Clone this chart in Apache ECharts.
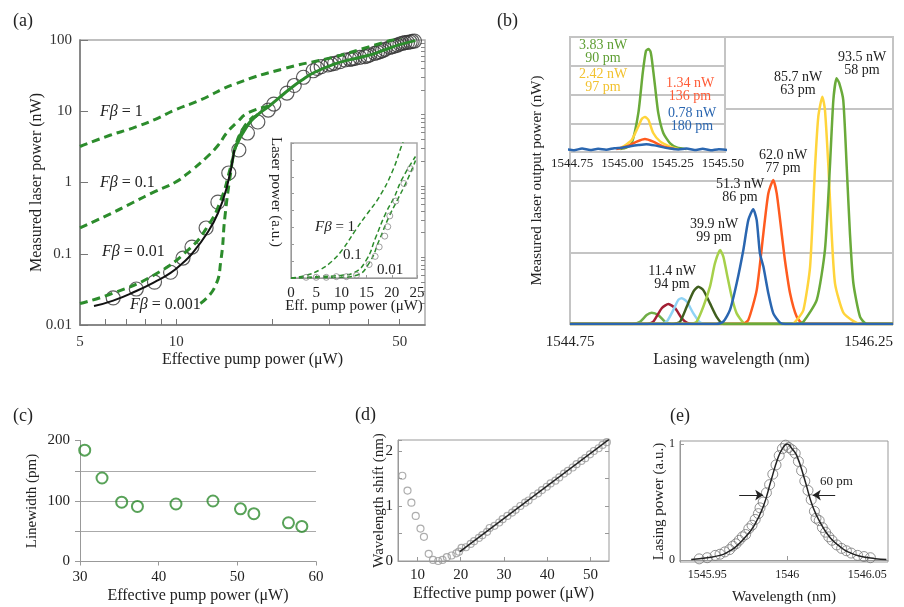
<!DOCTYPE html>
<html><head><meta charset="utf-8">
<script src="https://cdn.jsdelivr.net/npm/echarts@6/dist/echarts.min.js"></script>
<style>html,body{margin:0;padding:0;background:#fff}#c{width:904px;height:607px}</style>
</head><body><div id="c"></div>
<script>
const FONT = "'Liberation Serif','Times New Roman',serif";
const GREEN = '#2c8c2c';

// ---------- (a) main: measured laser power vs effective pump power ----------
const aMeasX = [6.35,7.5,8.55,9.6,10.5,11.2,12.4,13.5,14.6,15.7,16.7,18.0,19.4,20.2,22.2,23.4,25.0,26.8,27.6,28.4,29.8,30.5,31.3,32.5,33.7,34.9,35.5,36.2,37.5,38.9,39.6,40.3,41.8,42.6,43.4,44.2,45.0,46.6,47.4,48.3,49.2,50.1,51.0,51.9,52.9,53.9,54.7,55.6];
const aMeasY = [0.024,0.032,0.040,0.055,0.087,0.124,0.23,0.53,1.36,2.86,4.95,7.07,10.4,12.6,18,23,30,37,40,42.2,44.6,46,47.1,49.6,52.4,53.6,54.5,55.3,57.2,58.3,60,61.6,65,67,68.5,71,74,78.9,80.5,82.4,85,87.9,90,91.7,92.5,93.8,95.5,96.8];
const aFit = [[5.53,0.0185],[6.35,0.022],[7.5,0.030],[8.55,0.040],[9.6,0.054],[10.5,0.075],[11.2,0.10],[12.5,0.195],[13.5,0.37],[14.4,0.86],[15.2,2.86]];
const aFb1 = [[5,3.2],[6.2,4.6],[7.3,5.8],[8.6,7.7],[9.9,10.4],[11.9,14.4],[15.2,24],[21.9,40],[31.3,58],[40,80],[50.8,110]];
const aFb01 = [[5,0.23],[6.2,0.36],[7.3,0.52],[8.6,0.75],[9.9,1.0],[11.2,1.5],[12.5,2.3],[13.5,3.3],[14.4,5.0],[15.5,7],[16.7,9.4],[19.4,11.8]];
const aFb001 = [[5,0.020],[6.35,0.028],[8.5,0.050],[10.9,0.113],[12.5,0.237],[13.8,0.57],[14.8,1.65],[15.6,3.9],[16.7,6.4],[18,9]];
const aFb0001 = [[11.9,0.020],[13.2,0.034],[13.8,0.082],[14.2,0.33],[14.8,1.37],[15.3,3.15],[16.3,6.0],[17.5,8.5]];
const aUpper = [[15.3,3.1],[16.7,6.3],[18,9],[19.4,11.5],[21,15.5],[22.5,20],[24.6,27],[27,35],[31.3,46],[35,53],[40,61],[45,73],[50,86],[56,98]];
const aXLabels = [5,10,50];
const aXTicks = [6,7,8,9,10,20,30,40,50];

// ---------- (a) inset ----------
const aiFb1 = [[0,0],[3,0.02],[5.7,0.06],[8,0.12],[10.2,0.21],[12.9,0.36],[15,0.47],[17.5,0.6],[20,0.78],[22,0.985],[22.5,1.03]];
const aiFb01 = [[0,0],[5,0.01],[10,0.02],[12.5,0.04],[14.9,0.13],[16.8,0.3],[18.8,0.48],[20.5,0.6],[22,0.73],[24.7,0.9]];
const aiFb001 = [[0,0],[10,0.005],[13,0.02],[15.5,0.11],[17.5,0.28],[19.4,0.45],[21,0.57],[23,0.72],[24.7,0.87]];
const aiMeasX = [3,5,7,9,11,13,15.5,16.7,17.5,18.6,19.2,19.6,20.8,22.4,23.7];
const aiMeasY = [0.005,0.005,0.005,0.01,0.01,0.02,0.10,0.16,0.23,0.31,0.38,0.46,0.57,0.70,0.81];

// ---------- (b) spectra ----------
const bG1 = [[1544.75,0],[1545.04,0],[1545.075,0.8],[1545.106,3.1],[1545.129,3.9],[1545.160,3.1],[1545.191,0.8],[1545.22,0],[1546.25,0]];
const bDR = [[1544.75,0],[1545.11,0],[1545.137,0.8],[1545.176,5.5],[1545.207,7.0],[1545.238,5.5],[1545.269,2.0],[1545.292,0.5],[1545.32,0],[1546.25,0]];
const bLB = [[1544.75,0],[1545.17,0],[1545.199,0.8],[1545.230,4.9],[1545.253,8.4],[1545.269,9.0],[1545.292,7.8],[1545.323,3.7],[1545.354,0.5],[1545.38,0],[1546.25,0]];
const bDG = [[1544.75,0],[1545.23,0],[1545.261,0.8],[1545.292,6],[1545.323,11.3],[1545.346,13],[1545.369,11.8],[1545.400,7.2],[1545.431,2.5],[1545.462,0],[1546.25,0]];
const bYG = [[1544.75,0],[1545.31,0],[1545.338,0.8],[1545.369,6],[1545.400,13],[1545.423,21.1],[1545.447,25.8],[1545.462,23.5],[1545.478,17.7],[1545.501,9.5],[1545.524,3.7],[1545.555,0.5],[1545.58,0],[1546.25,0]];
const bBl = [[1544.75,0],[1545.43,0],[1545.462,0.8],[1545.493,4.9],[1545.524,14.2],[1545.555,25.8],[1545.578,36.2],[1545.601,40],[1545.617,36.2],[1545.632,24.6],[1545.648,20],[1545.671,10.7],[1545.694,3.7],[1545.725,0.5],[1545.75,0],[1546.25,0]];
const bOr = [[1544.75,0],[1545.55,0],[1545.578,1.4],[1545.617,11.8],[1545.648,31.6],[1545.671,45.5],[1545.694,50.2],[1545.710,45.5],[1545.733,31.6],[1545.748,22.3],[1545.772,10.7],[1545.803,2.5],[1545.834,0],[1546.25,0]];
const bYe = [[1544.75,0],[1545.78,0],[1545.803,1.4],[1545.834,4.9],[1545.865,20],[1545.888,54.8],[1545.903,72.2],[1545.922,79.2],[1545.934,74.6],[1545.950,54.8],[1545.965,31.6],[1545.981,14],[1546.019,4],[1546.066,1],[1546.1,0],[1546.25,0]];
const bGr = [[1544.75,0],[1545.81,0],[1545.834,0.8],[1545.896,8.4],[1545.934,25.8],[1545.957,54.8],[1545.973,78],[1545.988,85.6],[1546.0,84],[1546.019,78],[1546.035,54.8],[1546.050,31.6],[1546.066,14.2],[1546.097,2.5],[1546.128,0],[1546.25,0]];
const bXLabels = [1544.75,1546.25];
// (b) inset
const biGr = [[1544.99,0.1],[1545.02,0.15],[1545.047,0.3],[1545.080,1.36],[1545.102,2.76],[1545.118,3.52],[1545.130,3.58],[1545.140,3.5],[1545.147,3.23],[1545.163,2.29],[1545.179,1.36],[1545.204,0.66],[1545.238,0.3],[1545.271,0.16],[1545.32,0.1]];
const biYe = [[1544.98,0.1],[1545.005,0.19],[1545.047,0.42],[1545.080,0.89],[1545.097,1.15],[1545.113,1.22],[1545.130,1.12],[1545.154,0.66],[1545.188,0.37],[1545.238,0.19],[1545.28,0.1]];
const biOr = [[1544.97,0.1],[1545.022,0.19],[1545.072,0.36],[1545.113,0.45],[1545.154,0.36],[1545.204,0.19],[1545.26,0.1]];
const biBl = [[1544.72,0.1],[1544.76,0.06],[1544.80,0.12],[1544.84,0.07],[1544.88,0.11],[1544.92,0.08],[1544.96,0.13],[1545.00,0.15],[1545.04,0.2],[1545.08,0.24],[1545.12,0.27],[1545.16,0.23],[1545.20,0.17],[1545.24,0.12],[1545.28,0.09],[1545.32,0.12],[1545.36,0.07],[1545.40,0.11],[1545.44,0.06],[1545.48,0.1],[1545.52,0.07],[1545.54,0.09]];
const biXLabels = [1544.75,1545.00,1545.25,1545.50];

// ---------- (c) linewidth ----------
const cX = [30.6,32.8,35.3,37.3,42.2,46.9,50.4,52.1,56.5,58.2];
const cY = [184,138,98,91,95,100,87,79,64,58];

// ---------- (d) wavelength shift ----------
const dX = [6.5,7.7,8.6,9.6,10.7,11.5,12.6,13.6,14.8,15.8,16.8,17.9,19.0,19.6,20.2,21.2,22.3,23.1,24.2,25.0,26.1,26.7,27.8,28.9,29.7,30.8,31.9,32.7,33.8,34.9,35.7,36.8,37.9,38.8,39.9,40.8,41.9,42.8,43.9,44.8,45.9,46.8,47.9,48.8,49.9,50.8,51.9,52.8,53.8];
const dY = [1.55,1.28,1.06,0.82,0.59,0.44,0.13,0.02,0.00,0.02,0.07,0.10,0.14,0.17,0.24,0.25,0.31,0.36,0.42,0.47,0.53,0.60,0.64,0.70,0.76,0.82,0.88,0.93,1.00,1.06,1.10,1.18,1.23,1.29,1.35,1.41,1.46,1.52,1.59,1.64,1.70,1.76,1.82,1.87,1.94,2.00,2.05,2.11,2.16];
const dFit = [[19.8,0.17],[54.3,2.21]];
const dXLabels = [10,20,30,40,50];

// ---------- (e) lasing spectrum ----------
const eX = [1545.945,1545.950,1545.955,1545.958,1545.961,1545.964,1545.966,1545.968,1545.970,1545.972,1545.974,1545.976,1545.978,1545.980,1545.982,1545.983,1545.985,1545.987,1545.989,1545.991,1545.993,1545.995,1545.997,1545.999,1546.001,1546.003,1546.005,1546.007,1546.009,1546.011,1546.013,1546.015,1546.017,1546.018,1546.020,1546.022,1546.024,1546.026,1546.028,1546.031,1546.034,1546.037,1546.040,1546.044,1546.048,1546.052];
const eY = [0.01,0.02,0.04,0.05,0.07,0.09,0.12,0.14,0.17,0.20,0.22,0.27,0.30,0.35,0.40,0.45,0.50,0.58,0.65,0.74,0.82,0.90,0.96,0.99,0.97,0.95,0.92,0.85,0.77,0.68,0.60,0.52,0.42,0.36,0.34,0.28,0.24,0.20,0.17,0.13,0.10,0.08,0.06,0.04,0.03,0.02];
const eFit = [[1545.94,0.005],[1545.95,0.02],[1545.958,0.04],[1545.963,0.07],[1545.968,0.115],[1545.974,0.2],[1545.979,0.29],[1545.985,0.46],[1545.990,0.69],[1545.994,0.87],[1545.997,0.96],[1546.0,1.0],[1546.003,0.96],[1546.006,0.9],[1546.011,0.69],[1546.016,0.46],[1546.022,0.29],[1546.027,0.19],[1546.033,0.115],[1546.038,0.07],[1546.045,0.035],[1546.055,0.012],[1546.062,0.005]];
const eArrows = [[1545.970,1545.985,0.56],[1546.030,1546.016,0.56]];
const eXLabels = [1545.95,1546,1546.05];

const zip = (xs, ys) => xs.map((x, i) => [x, ys[i]]);
const minorLog = [];
[0.01,0.1,1,10].forEach(d => { for (let k = 2; k <= 9; k++) minorLog.push(+(d * k).toPrecision(3)); });

const lbl = (size, extra) => Object.assign({fontFamily: FONT, fontSize: size, color: '#222'}, extra || {});
const nm = (size) => ({fontFamily: FONT, fontSize: size, color: '#222'});

function txt(x, y, text, size, color, align, extra) {
  return Object.assign({
    type: 'text', x: x, y: y, z: 100,
    style: {text: text, font: size + 'px ' + FONT, fill: color || '#222', align: align || 'left', verticalAlign: 'middle', lineHeight: size - 1}
  }, extra || {});
}
function fb(x, y, rest, size) {
  return {type: 'text', x: x, y: y, z: 100, style: {
    text: '{i|Fβ}' + rest, font: size + 'px ' + FONT, fill: '#222', verticalAlign: 'middle',
    rich: {i: {fontStyle: 'italic', fontSize: size, fontFamily: FONT, fill: '#222'}}
  }};
}

const GRID_BASE = {outerBoundsMode: 'none', containLabel: false};
const option = {
  animation: false,
  backgroundColor: '#fff',
  textStyle: {fontFamily: FONT},
  grid: [
    Object.assign({left: 80, top: 40, width: 345, height: 285, show: true, borderColor: '#aaa', borderWidth: 1.5, backgroundColor: 'rgba(0,0,0,0)'}, GRID_BASE),
    Object.assign({left: 291, top: 143, width: 126, height: 135, show: true, borderColor: '#aaa', borderWidth: 1.5, backgroundColor: '#fff', z: 1}, GRID_BASE),
    Object.assign({left: 570, top: 37, width: 323, height: 287, show: true, borderColor: '#c4c4c4', borderWidth: 2, backgroundColor: 'rgba(0,0,0,0)'}, GRID_BASE),
    Object.assign({left: 570, top: 37, width: 155, height: 115, show: true, borderColor: '#c4c4c4', borderWidth: 2, backgroundColor: '#fff', z: 1}, GRID_BASE),
    Object.assign({left: 80, top: 440.5, width: 236, height: 121}, GRID_BASE),
    Object.assign({left: 398, top: 440, width: 211, height: 121, show: true, borderColor: '#999', borderWidth: 1, backgroundColor: 'rgba(0,0,0,0)'}, GRID_BASE),
    Object.assign({left: 680, top: 441, width: 208, height: 121, show: true, borderColor: '#999', borderWidth: 1, backgroundColor: 'rgba(0,0,0,0)'}, GRID_BASE)
  ],
  xAxis: [
    {gridIndex: 0, type: 'log', logBase: 10, min: 5, max: 60,
     axisLine: {lineStyle: {color: '#777', width: 1.5}},
     axisTick: {inside: true, length: 6, customValues: aXTicks, lineStyle: {color: '#777'}},
     axisLabel: {customValues: aXLabels, margin: 10, fontFamily: FONT, fontSize: 15, color: '#333'},
     splitLine: {show: false}, name: 'Effective pump power (μW)', nameLocation: 'middle', nameGap: 27, nameMoveOverlap: false, nameTextStyle: nm(16)},
    {gridIndex: 1, type: 'value', min: 0, max: 25, interval: 5, z: 2,
     axisLine: {lineStyle: {color: '#999'}}, axisTick: {inside: true, length: 3, lineStyle: {color: '#999'}},
     axisLabel: {margin: 8, fontFamily: FONT, fontSize: 15, color: '#222'},
     splitLine: {show: false}, name: 'Eff. pump power (μW)', nameLocation: 'middle', nameGap: 21, nameMoveOverlap: false, nameTextStyle: nm(15)},
    {gridIndex: 2, type: 'value', min: 1544.75, max: 1546.25,
     axisLine: {show: false}, axisTick: {show: false},
     axisLabel: {customValues: bXLabels, formatter: v => v.toFixed(2), alignMinLabel: 'center', alignMaxLabel: 'right', margin: 11, fontFamily: FONT, fontSize: 15, color: '#222'},
     splitLine: {show: false}, name: 'Lasing wavelength (nm)', nameLocation: 'middle', nameGap: 28, nameMoveOverlap: false, nameTextStyle: nm(16)},
    {gridIndex: 3, type: 'value', min: 1544.74, max: 1545.511, z: 2,
     axisLine: {show: false}, axisTick: {show: false},
     axisLabel: {customValues: biXLabels, formatter: v => v.toFixed(2), margin: 5, fontFamily: FONT, fontSize: 13, color: '#222'},
     splitLine: {show: false}},
    {gridIndex: 4, type: 'value', min: 30, max: 60, interval: 10,
     axisLine: {lineStyle: {color: '#999'}}, axisTick: {length: 4, lineStyle: {color: '#999'}},
     axisLabel: {margin: 8, fontFamily: FONT, fontSize: 15, color: '#222'},
     splitLine: {show: false}, name: 'Effective pump power (μW)', nameLocation: 'middle', nameGap: 26, nameMoveOverlap: false, nameTextStyle: nm(16)},
    {gridIndex: 5, type: 'value', min: 5.5, max: 54.3,
     axisLine: {lineStyle: {color: '#999'}}, axisTick: {inside: true, length: 4, customValues: dXLabels, lineStyle: {color: '#999'}},
     axisLabel: {customValues: dXLabels, margin: 7, fontFamily: FONT, fontSize: 15, color: '#222'},
     splitLine: {show: false}, name: 'Effective pump power (μW)', nameLocation: 'middle', nameGap: 25, nameMoveOverlap: false, nameTextStyle: nm(16)},
    {gridIndex: 6, type: 'value', min: 1545.933, max: 1546.063,
     axisLine: {lineStyle: {color: '#999'}}, axisTick: {inside: true, length: 4, customValues: eXLabels, lineStyle: {color: '#999'}},
     axisLabel: {customValues: eXLabels, formatter: v => String(Math.round(v * 100) / 100), margin: 7, fontFamily: FONT, fontSize: 12, color: '#222'},
     splitLine: {show: false}, name: 'Wavelength (nm)', nameLocation: 'middle', nameGap: 28, nameMoveOverlap: false, nameTextStyle: nm(15)}
  ],
  yAxis: [
    {gridIndex: 0, type: 'log', logBase: 10, min: 0.01, max: 100,
     axisLine: {lineStyle: {color: '#777', width: 1.5}},
     axisTick: {inside: true, length: 8, lineStyle: {color: '#777'}},
     axisLabel: {margin: 8, fontFamily: FONT, fontSize: 15, color: '#333'},
     splitLine: {show: false}, name: 'Measured laser power (nW)', nameLocation: 'middle', nameGap: 35, nameMoveOverlap: false, nameTextStyle: nm(16)},
    {gridIndex: 0, type: 'log', logBase: 10, min: 0.01, max: 100,
     axisLine: {show: false}, axisLabel: {show: false}, splitLine: {show: false},
     axisTick: {inside: true, length: 4, customValues: minorLog, lineStyle: {color: '#888'}}},
    {gridIndex: 1, type: 'value', min: 0, max: 1, interval: 0.125, z: 2,
     axisLine: {lineStyle: {color: '#999'}}, axisTick: {inside: true, length: 3, lineStyle: {color: '#999'}},
     axisLabel: {show: false}, splitLine: {show: false}},
    {gridIndex: 2, type: 'value', min: 0, max: 100, interval: 25,
     axisLine: {show: false}, axisTick: {show: false}, axisLabel: {show: false},
     splitLine: {show: true, showMinLine: false, showMaxLine: false, lineStyle: {color: '#c4c4c4', width: 2}},
     name: 'Measured laser output power (nW)', nameLocation: 'middle', nameGap: 25, nameMoveOverlap: false, nameTextStyle: nm(15)},
    {gridIndex: 3, type: 'value', min: 0, max: 4, interval: 1, z: 2,
     axisLine: {show: false}, axisTick: {show: false}, axisLabel: {show: false},
     splitLine: {show: true, showMinLine: false, showMaxLine: false, lineStyle: {color: '#c4c4c4', width: 2}}},
    {gridIndex: 4, type: 'value', min: 0, max: 200, interval: 50,
     axisLine: {show: true, lineStyle: {color: '#999'}}, axisTick: {show: true, length: 5, lineStyle: {color: '#999'}},
     axisLabel: {formatter: v => (v % 100 === 0 ? String(v) : ''), margin: 10, fontFamily: FONT, fontSize: 15, color: '#222'},
     splitLine: {show: true, showMinLine: false, showMaxLine: false, lineStyle: {color: '#aaa', width: 1}},
     name: 'Linewidth (pm)', nameLocation: 'middle', nameGap: 40, nameMoveOverlap: false, nameTextStyle: nm(15)},
    {gridIndex: 5, type: 'value', min: 0, max: 2.2, interval: 0.5,
     axisLine: {lineStyle: {color: '#999'}}, axisTick: {inside: true, length: 4, lineStyle: {color: '#999'}},
     axisLabel: {formatter: v => (v % 1 === 0 ? String(v) : ''), margin: 5, fontFamily: FONT, fontSize: 15, color: '#222'},
     splitLine: {show: false}, name: 'Wavelength shift (nm)', nameLocation: 'middle', nameGap: 11, nameMoveOverlap: false, nameTextStyle: nm(15)},
    {gridIndex: 5, type: 'value', position: 'right', min: 0, max: 2.2, interval: 0.5,
     axisLine: {show: false}, axisTick: {inside: true, length: 4, lineStyle: {color: '#999'}},
     axisLabel: {show: false}, splitLine: {show: false}},
    {gridIndex: 6, type: 'value', min: -0.017, max: 1.026,
     axisLine: {lineStyle: {color: '#999'}}, axisTick: {inside: true, length: 4, customValues: [0, 1], lineStyle: {color: '#999'}},
     axisLabel: {customValues: [0, 1], margin: 5, fontFamily: FONT, fontSize: 12, color: '#222'},
     splitLine: {show: false}, name: 'Lasing power (a.u.)', nameLocation: 'middle', nameGap: 13, nameMoveOverlap: false, nameTextStyle: nm(15)}
  ],
  series: [
    // (a) main
    {type: 'line', xAxisIndex: 0, yAxisIndex: 0, data: aFb1, smooth: true, symbol: 'none', clip: true, lineStyle: {color: GREEN, width: 3, type: [8, 5]}},
    {type: 'line', xAxisIndex: 0, yAxisIndex: 0, data: aFb01, smooth: true, symbol: 'none', clip: true, lineStyle: {color: GREEN, width: 3, type: [8, 5]}},
    {type: 'line', xAxisIndex: 0, yAxisIndex: 0, data: aFb001, smooth: true, symbol: 'none', clip: true, lineStyle: {color: GREEN, width: 3, type: [8, 5]}},
    {type: 'line', xAxisIndex: 0, yAxisIndex: 0, data: aFb0001, smooth: true, symbol: 'none', clip: true, lineStyle: {color: GREEN, width: 3, type: [8, 5]}},
    {type: 'line', xAxisIndex: 0, yAxisIndex: 0, data: aUpper, smooth: true, symbol: 'none', clip: true, lineStyle: {color: GREEN, width: 3}},
    {type: 'line', xAxisIndex: 0, yAxisIndex: 0, data: aFit, smooth: true, symbol: 'none', clip: true, lineStyle: {color: '#111', width: 2}},
    {type: 'scatter', xAxisIndex: 0, yAxisIndex: 0, data: zip(aMeasX, aMeasY), symbol: 'circle', symbolSize: 14,
     itemStyle: {color: 'rgba(0,0,0,0)', borderColor: '#333', borderWidth: 1.2}},
    // (a) inset
    {type: 'line', xAxisIndex: 1, yAxisIndex: 2, z: 3, data: aiFb1, smooth: true, symbol: 'none', clip: true, lineStyle: {color: GREEN, width: 1.5, type: [5, 3]}},
    {type: 'line', xAxisIndex: 1, yAxisIndex: 2, z: 3, data: aiFb01, smooth: true, symbol: 'none', clip: true, lineStyle: {color: GREEN, width: 1.5, type: [5, 3]}},
    {type: 'line', xAxisIndex: 1, yAxisIndex: 2, z: 3, data: aiFb001, smooth: true, symbol: 'none', clip: true, lineStyle: {color: GREEN, width: 1.5, type: [5, 3]}},
    {type: 'scatter', xAxisIndex: 1, yAxisIndex: 2, z: 3, data: zip(aiMeasX, aiMeasY), symbol: 'circle', symbolSize: 6,
     itemStyle: {color: 'rgba(0,0,0,0)', borderColor: '#888', borderWidth: 1}},
    // (b) main spectra
    ...[[bG1, '#70AD47'], [bDR, '#A31F34'], [bLB, '#8FD3F5'], [bDG, '#3F5E1E'], [bYG, '#A6D04A'], [bOr, '#FF5B1F'], [bYe, '#FFD43B'], [bGr, '#6AAA3A'], [bBl, '#2A66B0']].map(
      ([d, c]) => ({type: 'line', xAxisIndex: 2, yAxisIndex: 3, data: d, smooth: 0.2, symbol: 'none', lineStyle: {color: c, width: 2.5}})),
    // (b) inset spectra
    ...[[biGr, '#6AAA3A'], [biYe, '#FFD43B'], [biOr, '#FF5B1F'], [biBl, '#2A66B0']].map(
      ([d, c]) => ({type: 'line', xAxisIndex: 3, yAxisIndex: 4, z: 3, data: d, smooth: 0.2, symbol: 'none', clip: true, lineStyle: {color: c, width: 2.5}})),
    // (c)
    {type: 'scatter', xAxisIndex: 4, yAxisIndex: 5, data: zip(cX, cY), symbol: 'circle', symbolSize: 11,
     itemStyle: {color: 'rgba(0,0,0,0)', borderColor: '#2e8b2e', borderWidth: 2}},
    // (d)
    {type: 'line', xAxisIndex: 5, yAxisIndex: 6, data: dFit, symbol: 'none', lineStyle: {color: '#222', width: 1.5}},
    {type: 'scatter', xAxisIndex: 5, yAxisIndex: 6, data: zip(dX, dY), symbol: 'circle', symbolSize: 7,
     itemStyle: {color: 'rgba(0,0,0,0)', borderColor: '#999', borderWidth: 1.2}},
    // (e)
    {type: 'line', xAxisIndex: 6, yAxisIndex: 8, data: eFit, smooth: true, symbol: 'none', lineStyle: {color: '#222', width: 1.5},
     markLine: {silent: true, symbol: ['none', 'arrow'], symbolSize: 8, label: {show: false},
       lineStyle: {color: '#222', width: 1, type: 'solid'},
       data: eArrows.map(([a, b, y]) => [{coord: [a, y]}, {coord: [b, y]}])}},
    {type: 'scatter', xAxisIndex: 6, yAxisIndex: 8, data: zip(eX, eY), symbol: 'circle', symbolSize: 10,
     itemStyle: {color: 'rgba(0,0,0,0)', borderColor: '#777', borderWidth: 1}}
  ],
  graphic: [
    txt(13, 21, '(a)', 18), txt(497, 21, '(b)', 18), txt(13, 416, '(c)', 18), txt(355, 415, '(d)', 18), txt(670, 416, '(e)', 18),
    fb(100, 112, ' = 1', 16), fb(100, 183, ' = 0.1', 16), fb(102, 252, ' = 0.01', 16), fb(130, 305, ' = 0.001', 16),
    fb(315, 227, ' = 1', 15), txt(343, 255, '0.1', 15), txt(377, 270, '0.01', 15),
    txt(276, 192, 'Laser power (a.u.)', 15, '#222', 'center', {rotation: -Math.PI / 2}),
    txt(862, 63.5, '93.5 nW\n58 pm', 14, '#222', 'center'),
    txt(798, 83.5, '85.7 nW\n63 pm', 14, '#222', 'center'),
    txt(783, 161.5, '62.0 nW\n77 pm', 14, '#222', 'center'),
    txt(740, 190.5, '51.3 nW\n86 pm', 14, '#222', 'center'),
    txt(714, 231, '39.9 nW\n99 pm', 14, '#222', 'center'),
    txt(672, 277.5, '11.4 nW\n94 pm', 14, '#222', 'center'),
    txt(603, 52, '3.83 nW\n90 pm', 14, '#5E9E33', 'center'),
    txt(603, 80.5, '2.42 nW\n97 pm', 14, '#F2C230', 'center'),
    txt(690, 90, '1.34 nW\n136 pm', 14, '#FF5B36', 'center'),
    txt(692, 119.5, '0.78 nW\n180 pm', 14, '#2A66B0', 'center'),
    txt(820, 482, '60 pm', 13)
  ]
};
const chart = echarts.init(document.getElementById('c'), null, {renderer: 'canvas', width: 904, height: 607});
chart.setOption(option);
</script></body></html>
